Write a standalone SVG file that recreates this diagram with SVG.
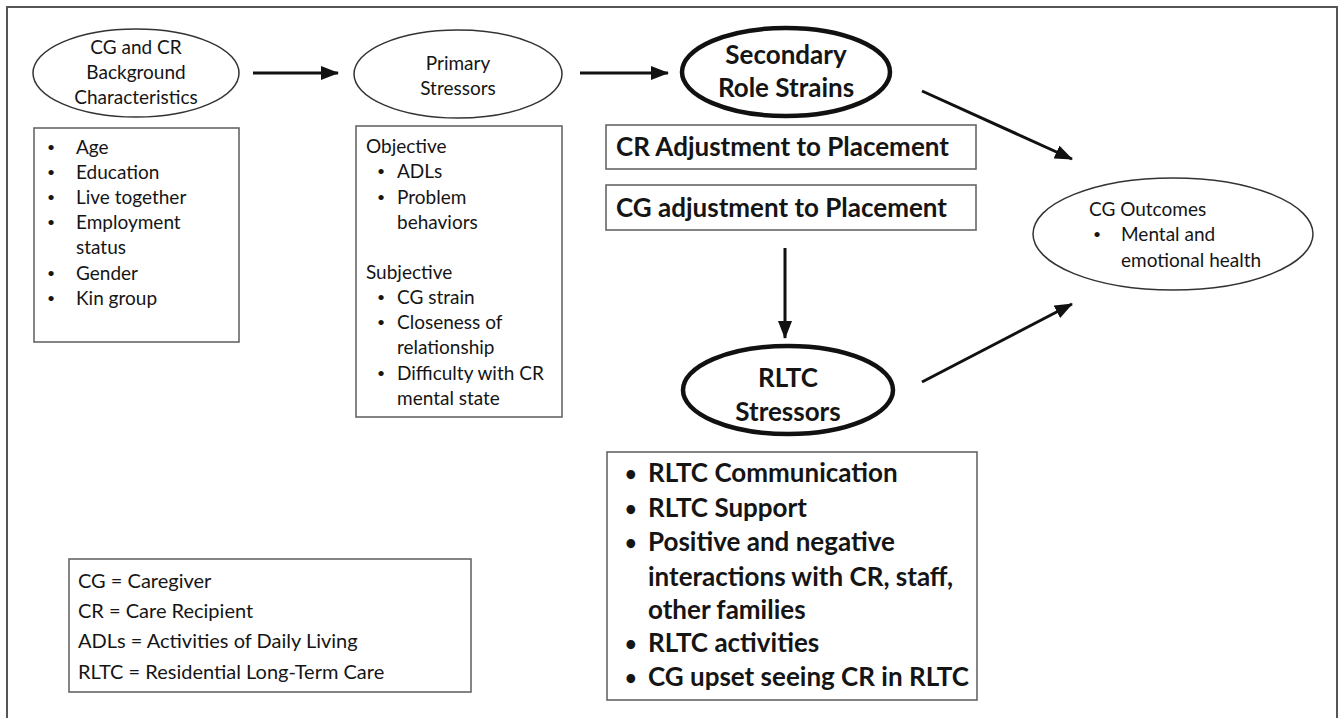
<svg xmlns="http://www.w3.org/2000/svg" width="1344" height="718" viewBox="0 0 1344 718">
<defs>
<marker id="ah" markerUnits="userSpaceOnUse" markerWidth="18" markerHeight="14" refX="17" refY="7" orient="auto">
<path d="M0,0 L18,7 L0,14 z" fill="#111"/>
</marker>
<style>
text{font-family:Lato,"Open Sans","Liberation Sans",sans-serif;fill:#151515}
.t{font-size:19px}
.c{text-anchor:middle}
.b{font-weight:bold}
.big{font-size:26px}
.bl{font-size:14px}
.bbl{font-size:20px}
.box{fill:#fff;stroke:#666;stroke-width:1.6}
.ell{fill:#fff;stroke:#333;stroke-width:1.5}
.ellb{fill:#fff;stroke:#111;stroke-width:4.5}
.con{stroke:#111;stroke-width:3;fill:none;marker-end:url(#ah)}
</style>
</defs>
<rect width="1344" height="718" fill="#fff"/>
<rect x="7" y="7" width="1330" height="720" fill="none" stroke="#555" stroke-width="2"/>

<g id="connectors">
<line class="con" x1="253" y1="73" x2="338" y2="73"/>
<line class="con" x1="580" y1="73" x2="668" y2="73"/>
<line class="con" x1="785" y1="248" x2="785" y2="338"/>
<line class="con" x1="922" y1="91" x2="1072" y2="159"/>
<line class="con" x1="922" y1="382" x2="1072" y2="304"/>
</g>

<g id="bg-ellipse">
<ellipse class="ell" cx="136" cy="73" rx="103" ry="44"/>
<text class="t c" x="136" y="54">CG and CR</text>
<text class="t c" x="136" y="79">Background</text>
<text class="t c" x="136" y="104">Characteristics</text>
</g>

<g id="bg-box">
<rect class="box" x="34" y="128" width="205" height="214"/>
<g class="t">
<text class="bl" x="47" y="152">•</text><text x="76" y="154">Age</text>
<text class="bl" x="47" y="177">•</text><text x="76" y="179">Education</text>
<text class="bl" x="47" y="202">•</text><text x="76" y="204">Live together</text>
<text class="bl" x="47" y="227">•</text><text x="76" y="229">Employment</text>
<text x="76" y="254">status</text>
<text class="bl" x="47" y="278">•</text><text x="76" y="280">Gender</text>
<text class="bl" x="47" y="303">•</text><text x="76" y="305">Kin group</text>
</g>
</g>

<g id="primary-ellipse">
<ellipse class="ell" cx="458" cy="74" rx="104" ry="44"/>
<text class="t c" x="458" y="70">Primary</text>
<text class="t c" x="458" y="95">Stressors</text>
</g>

<g id="primary-box">
<rect class="box" x="356" y="126" width="206" height="291"/>
<g class="t">
<text x="366" y="153">Objective</text>
<text class="bl" x="377" y="176">•</text><text x="397" y="178">ADLs</text>
<text class="bl" x="377" y="202">•</text><text x="397" y="204">Problem</text>
<text x="397" y="229">behaviors</text>
<text x="366" y="279">Subjective</text>
<text class="bl" x="377" y="302">•</text><text x="397" y="304">CG strain</text>
<text class="bl" x="377" y="327">•</text><text x="397" y="329">Closeness of</text>
<text x="397" y="354">relationship</text>
<text class="bl" x="377" y="378">•</text><text x="397" y="380">Difficulty with CR</text>
<text x="397" y="405">mental state</text>
</g>
</g>

<g id="secondary-ellipse">
<ellipse class="ellb" cx="786" cy="72" rx="104" ry="44"/>
<text class="big b c" x="786" y="64">Secondary</text>
<text class="big b c" x="786" y="97">Role Strains</text>
</g>

<g id="cr-adjust">
<rect class="box" x="606" y="125" width="370" height="44"/>
<text class="big b" x="616" y="156">CR Adjustment to Placement</text>
</g>

<g id="cg-adjust">
<rect class="box" x="606" y="185" width="370" height="45"/>
<text class="big b" x="616" y="217">CG adjustment to Placement</text>
</g>

<g id="rltc-ellipse">
<ellipse class="ellb" cx="788" cy="390" rx="105" ry="44"/>
<text class="big b c" x="788" y="387">RLTC</text>
<text class="big b c" x="788" y="421">Stressors</text>
</g>

<g id="rltc-box">
<rect class="box" x="607" y="452" width="370" height="248"/>
<g class="big b">
<text class="bbl" x="625" y="481">•</text><text x="648" y="482">RLTC Communication</text>
<text class="bbl" x="625" y="516">•</text><text x="648" y="517">RLTC Support</text>
<text class="bbl" x="625" y="550">•</text><text x="648" y="551">Positive and negative</text>
<text x="648" y="586">interactions with CR, staff,</text>
<text x="648" y="619">other families</text>
<text class="bbl" x="625" y="651">•</text><text x="648" y="652">RLTC activities</text>
<text class="bbl" x="625" y="685">•</text><text x="648" y="686">CG upset seeing CR in RLTC</text>
</g>
</g>

<g id="outcomes-ellipse">
<ellipse class="ell" cx="1173" cy="234" rx="140" ry="56"/>
<g class="t">
<text x="1089" y="216">CG Outcomes</text>
<text class="bl" x="1093" y="239">•</text><text x="1121" y="241">Mental and</text>
<text x="1121" y="267">emotional health</text>
</g>
</g>

<g id="legend">
<rect class="box" x="69" y="559" width="402" height="133"/>
<g style="font-size:20px">
<text x="78" y="588">CG = Caregiver</text>
<text x="78" y="618">CR = Care Recipient</text>
<text x="78" y="648">ADLs = Activities of Daily Living</text>
<text x="78" y="679">RLTC = Residential Long-Term Care</text>
</g>
</g>
</svg>
